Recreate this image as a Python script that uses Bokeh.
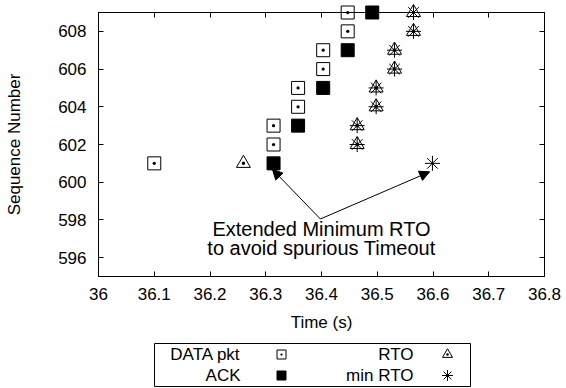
from bokeh.plotting import figure
from bokeh.models import (Range1d, LinearAxis, FixedTicker, NumeralTickFormatter,
                          Arrow, NormalHead, ColumnDataSource)
from bokeh.layouts import column
from bokeh.embed import file_html
from bokeh.resources import INLINE
from bokeh.core.properties import value

# ---------------- data ----------------
data_x = [36.100, 36.314, 36.314, 36.358, 36.358, 36.403, 36.403, 36.447, 36.447]
data_y = [601, 602, 603, 604, 605, 606, 607, 608, 609]

ack_x = [36.314, 36.358, 36.403, 36.447, 36.491]
ack_y = [601, 603, 605, 607, 609]

rto_x = [36.260, 36.464, 36.464, 36.498, 36.498, 36.531, 36.531, 36.565, 36.565]
rto_y = [601, 602, 603, 604, 605, 606, 607, 608, 609]

minrto_x = [36.464, 36.464, 36.498, 36.498, 36.531, 36.531, 36.565, 36.565, 36.599]
minrto_y = [602, 603, 604, 605, 606, 607, 608, 609, 601]

x_ticks = [36.0, 36.1, 36.2, 36.3, 36.4, 36.5, 36.6, 36.7, 36.8]
y_ticks = [596, 598, 600, 602, 604, 606, 608]
x_label = "Time (s)"
y_label = "Sequence Number"
legend_labels = ["DATA pkt", "ACK", "RTO", "min RTO"]

note_lines = ["Extended Minimum RTO", "to avoid spurious Timeout"]
note_x = [36.40, 36.40]
note_y = [597.5, 596.5]
arrow_x_start = [36.398, 36.398]
arrow_y_start = [598.05, 598.05]
arrow_x_end = [36.312, 36.594]
arrow_y_end = [600.68, 600.55]

FONT = "Liberation Sans"
FS = "17px"

# ---------------- main plot ----------------
p = figure(width=566, height=340, x_range=Range1d(36, 36.8), y_range=Range1d(595, 609),
           output_backend="svg", toolbar_location=None,
           min_border_left=98, min_border_right=22, min_border_top=12, min_border_bottom=64,
           x_axis_label=x_label, y_axis_label=y_label)
p.grid.visible = False
p.outline_line_color = "black"
p.outline_line_width = 1
p.background_fill_color = "white"
p.border_fill_color = "white"

def style_axis(ax, ticks, label_size=FS, standoff=8):
    ax.ticker = FixedTicker(ticks=ticks)
    ax.formatter = NumeralTickFormatter(format="0.[0]")
    ax.major_tick_in = 5
    ax.major_tick_out = 0
    ax.minor_tick_in = 0
    ax.minor_tick_out = 0
    ax.axis_line_color = "black"
    ax.major_tick_line_color = "black"
    ax.major_label_text_font = FONT
    ax.major_label_text_font_size = label_size
    ax.major_label_text_color = "black"
    ax.major_label_standoff = standoff
    ax.axis_label_text_font = FONT
    ax.axis_label_text_font_size = FS
    ax.axis_label_text_font_style = "normal"
    ax.axis_label_text_color = "black"

style_axis(p.xaxis[0], x_ticks, standoff=11)
p.xaxis[0].axis_label_standoff = 10
style_axis(p.yaxis[0], y_ticks, standoff=12)
p.yaxis[0].axis_label_standoff = 31

top_ax = LinearAxis()
style_axis(top_ax, x_ticks, label_size="0px", standoff=0)
top_ax.major_label_text_alpha = 0
p.add_layout(top_ax, "above")
right_ax = LinearAxis()
style_axis(right_ax, y_ticks, label_size="0px", standoff=0)
right_ax.major_label_text_alpha = 0
p.add_layout(right_ax, "right")

p.scatter(data_x, data_y, marker="square_dot", size=13, fill_color=None,
          line_color="black", line_width=1, level="overlay")
p.scatter(ack_x, ack_y, marker="square", size=13, fill_color="black",
          line_color="black", line_width=1, level="overlay")
p.scatter(rto_x, rto_y, marker="triangle_dot", size=14, fill_color=None,
          line_color="black", line_width=1, level="overlay")
p.scatter(minrto_x, minrto_y, marker="asterisk", size=15,
          line_color="black", line_width=1, level="overlay")

arrows = ColumnDataSource(dict(x0=arrow_x_start, y0=arrow_y_start, x1=arrow_x_end, y1=arrow_y_end))
p.add_layout(Arrow(source=arrows, x_start="x0", y_start="y0", x_end="x1", y_end="y1",
                   line_color="black", line_width=1,
                   end=NormalHead(size=10, fill_color="black", line_color="black")))

p.text(x=note_x, y=note_y, text=note_lines, text_align="center", text_baseline="middle",
       text_font=value(FONT), text_font_size="20px", text_color="black")

# ---------------- legend (gnuplot style: label then symbol) ----------------
# frame spans the same pixels as the main plot's frame; data units == pixels
lg = figure(width=566, height=48, x_range=Range1d(98, 544), y_range=Range1d(48, 0),
            output_backend="svg", toolbar_location=None,
            min_border_left=98, min_border_right=22, min_border_top=0, min_border_bottom=0)
lg.axis.visible = False
lg.grid.visible = False
lg.outline_line_color = None
lg.background_fill_color = "white"
lg.border_fill_color = "white"

lg.quad(left=[154], right=[470], top=[3], bottom=[46], fill_color=None,
        line_color="black", line_width=1)
row_y = [14, 35]
lg.text(x=[240, 240, 413, 413], y=[row_y[0], row_y[1], row_y[0], row_y[1]],
        text=legend_labels, text_align="right", text_baseline="middle",
        text_font=value(FONT), text_font_size=FS, text_color="black")
lg.scatter([281], [row_y[0]], marker="square_dot", size=9, fill_color=None, line_color="black")
lg.scatter([281], [row_y[1]], marker="square", size=9, fill_color="black", line_color="black")
lg.scatter([447], [row_y[0]], marker="triangle_dot", size=10, fill_color=None, line_color="black")
lg.scatter([447], [row_y[1]], marker="asterisk", size=11, line_color="black")

layout = column(p, lg, spacing=0)
open("out.html", "w").write(file_html(layout, INLINE))
